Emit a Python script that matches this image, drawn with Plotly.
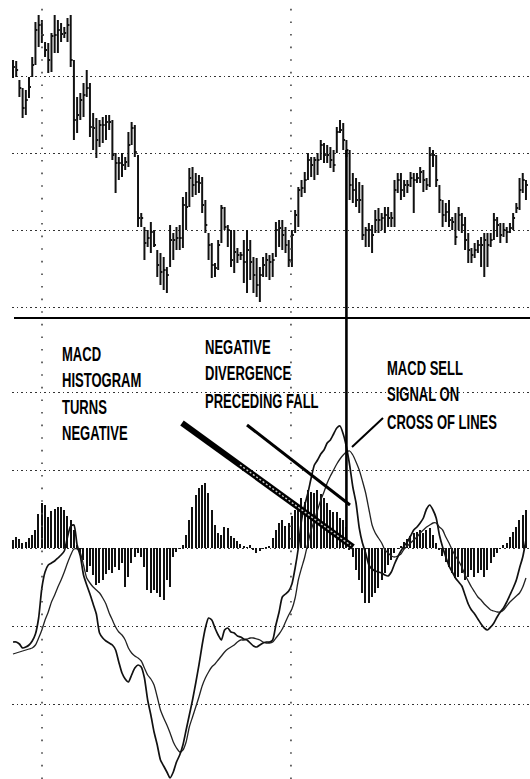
import plotly.graph_objects as go

W, H = 530, 779
ML = 12                      # left margin in px
PW = W - ML                  # plot width in px

# ---------------- price bars (high / low / close) ----------------
high = [44.0, 43.9, 42.0, 41.2, 41.0, 42.3, 44.3, 47.8, 48.5, 48.0,
        45.8, 45.7, 46.7, 48.5, 48.0, 47.7, 47.3, 48.2, 48.5, 44.0,
        40.3, 40.7, 41.7, 43.0, 41.7, 38.7, 38.2, 38.0, 38.3, 38.5,
        38.5, 38.0, 34.7, 34.3, 34.7, 34.3, 36.8, 37.8, 37.5, 34.5,
        28.7, 27.3, 27.0, 27.8, 27.0, 25.0, 24.7, 24.3, 23.3, 27.5,
        26.7, 27.3, 27.5, 30.3, 30.8, 33.2, 33.3, 32.7, 32.5, 32.3,
        30.0, 26.7, 25.7, 23.7, 26.0, 29.5, 29.3, 27.5, 27.0, 27.0,
        25.2, 24.8, 26.0, 27.0, 26.0, 24.3, 24.2, 23.3, 24.3, 24.7,
        24.5, 24.7, 27.8, 28.0, 28.0, 27.3, 26.0, 27.0, 29.0, 31.3,
        32.0, 32.8, 34.7, 34.3, 34.3, 34.7, 36.0, 35.7, 35.5, 35.3,
        35.0, 37.3, 38.0, 37.7, 36.0, 35.0, 32.7, 32.2, 31.8, 31.5,
        27.3, 27.7, 27.5, 29.0, 29.2, 28.7, 29.3, 29.3, 28.8, 32.0,
        32.7, 32.7, 32.0, 32.0, 32.8, 32.7, 32.7, 33.3, 33.0, 32.2,
        35.3, 35.0, 34.5, 31.5, 30.0, 29.7, 30.0, 28.3, 28.7, 29.3,
        28.7, 28.3, 26.7, 25.2, 25.7, 26.0, 26.3, 26.7, 26.7, 26.7,
        28.7, 28.3, 27.7, 27.7, 27.3, 27.7, 28.7, 29.7, 32.2, 32.7,
        32.0]
low = [42.2, 42.3, 40.3, 38.2, 38.5, 40.2, 42.3, 43.5, 45.3, 45.7,
       44.3, 42.7, 42.8, 44.7, 44.7, 45.8, 46.2, 45.8, 43.3, 36.0,
       36.7, 38.0, 38.3, 40.3, 36.3, 35.0, 34.2, 35.3, 35.7, 36.0,
       37.0, 34.0, 30.7, 32.0, 32.3, 33.0, 33.3, 35.5, 34.3, 27.3,
       27.3, 24.0, 25.3, 24.7, 25.3, 22.3, 21.5, 21.0, 20.7, 23.3,
       24.0, 25.0, 25.0, 25.2, 27.0, 29.3, 30.3, 30.5, 30.7, 28.7,
       26.7, 24.0, 22.2, 22.3, 23.0, 25.7, 27.0, 25.3, 23.3, 22.7,
       23.7, 24.0, 21.7, 20.7, 22.0, 20.7, 20.3, 19.8, 22.3, 22.3,
       22.0, 22.3, 24.3, 25.3, 25.0, 24.7, 23.3, 23.3, 26.7, 27.3,
       30.3, 30.7, 32.0, 32.3, 32.0, 32.5, 34.0, 33.7, 33.7, 33.2,
       32.8, 34.7, 36.7, 35.0, 34.3, 30.0, 29.7, 29.3, 28.7, 26.0,
       25.3, 25.3, 24.7, 26.7, 26.7, 27.0, 26.7, 27.3, 27.3, 27.3,
       30.7, 30.0, 30.3, 30.7, 31.3, 28.7, 31.7, 31.7, 30.8, 31.0,
       31.3, 33.3, 31.3, 28.7, 27.3, 27.8, 27.3, 27.0, 25.5, 27.0,
       26.7, 25.0, 23.7, 23.7, 24.2, 24.7, 23.3, 22.3, 23.3, 25.3,
       26.0, 26.3, 25.7, 26.3, 25.7, 26.7, 27.0, 28.7, 29.0, 30.7,
       30.0]
close = [43.3, 43.0, 41.2, 39.2, 40.0, 41.3, 43.5, 47.0, 47.5, 46.5,
         45.0, 44.0, 46.4, 46.5, 47.0, 46.6, 46.7, 47.5, 44.0, 38.0,
         38.5, 40.0, 40.5, 41.2, 37.3, 37.2, 36.0, 37.5, 37.5, 37.8,
         37.8, 34.5, 33.7, 33.7, 33.5, 33.8, 35.5, 37.2, 34.8, 28.2,
         28.2, 25.7, 26.2, 26.8, 25.5, 23.5, 22.8, 23.0, 22.5, 26.0,
         26.0, 26.2, 26.2, 29.5, 29.3, 32.2, 31.5, 31.8, 31.7, 29.5,
         27.5, 25.5, 23.5, 23.2, 25.5, 29.2, 27.3, 27.0, 24.0, 24.8,
         24.5, 24.5, 23.8, 25.0, 23.8, 22.5, 21.5, 22.5, 23.5, 24.0,
         23.8, 24.0, 27.0, 27.2, 26.5, 25.5, 24.0, 26.5, 28.5, 31.0,
         31.2, 32.0, 34.0, 33.5, 34.0, 34.0, 35.5, 34.5, 34.5, 34.0,
         33.5, 36.8, 37.0, 36.0, 35.0, 31.5, 31.0, 30.0, 30.0, 26.5,
         27.0, 27.0, 26.5, 28.0, 28.0, 28.2, 28.5, 28.2, 28.2, 31.0,
         32.0, 31.0, 31.5, 31.5, 32.2, 32.0, 32.2, 32.8, 32.0, 31.5,
         34.5, 34.5, 32.0, 30.0, 28.5, 28.8, 28.0, 27.8, 26.3, 28.5,
         27.5, 26.0, 25.0, 24.5, 25.0, 25.5, 25.5, 26.0, 25.5, 26.0,
         28.0, 27.5, 26.5, 27.0, 26.8, 27.2, 28.2, 29.2, 31.0, 32.0,
         31.5]

# ---------------- MACD panel ----------------
macd = [-0.94, -0.94, -0.96, -1.00, -0.99, -0.97, -0.93, -0.86, -0.70, -0.40,
        -0.24, -0.17, -0.15, -0.13, -0.10, -0.07, -0.03, 0.11, 0.22, 0.23,
        0.03, -0.08, -0.27, -0.37, -0.46, -0.56, -0.66, -0.85, -0.90, -0.93,
        -0.95, -0.97, -1.02, -1.14, -1.25, -1.31, -1.34, -1.27, -1.20, -1.17,
        -1.19, -1.30, -1.52, -1.67, -1.84, -1.97, -2.12, -2.18, -2.24, -2.30,
        -2.24, -2.14, -2.07, -1.97, -1.82, -1.67, -1.52, -1.35, -1.17, -0.97,
        -0.80, -0.70, -0.72, -0.80, -0.87, -0.92, -0.82, -0.80, -0.84, -0.85,
        -0.88, -0.89, -0.91, -0.92, -0.95, -0.98, -0.99, -0.97, -0.95, -0.94,
        -0.94, -0.92, -0.77, -0.64, -0.49, -0.46, -0.43, -0.36, -0.20, 0.00,
        0.28, 0.43, 0.55, 0.70, 0.83, 0.88, 0.94, 0.98, 1.05, 1.08,
        1.14, 1.20, 1.22, 1.14, 1.01, 0.83, 0.61, 0.45, 0.20, 0.05,
        -0.05, -0.17, -0.21, -0.23, -0.24, -0.25, -0.27, -0.28, -0.24, -0.16,
        -0.09, -0.03, 0.02, 0.06, 0.12, 0.18, 0.21, 0.25, 0.30, 0.39,
        0.43, 0.38, 0.30, 0.13, 0.01, -0.09, -0.18, -0.24, -0.30, -0.34,
        -0.38, -0.47, -0.56, -0.62, -0.66, -0.71, -0.76, -0.80, -0.82, -0.79,
        -0.75, -0.69, -0.64, -0.60, -0.54, -0.47, -0.40, -0.32, -0.20, -0.09,
        0.08]
signal = [-1.06, -1.05, -1.04, -1.03, -1.02, -1.01, -1.00, -0.97, -0.90, -0.82,
          -0.72, -0.64, -0.54, -0.47, -0.39, -0.32, -0.24, -0.15, -0.07, -0.01,
          -0.01, -0.05, -0.17, -0.30, -0.35, -0.39, -0.42, -0.45, -0.50, -0.56,
          -0.65, -0.72, -0.79, -0.84, -0.87, -0.92, -1.00, -1.05, -1.08, -1.10,
          -1.13, -1.20, -1.27, -1.31, -1.37, -1.49, -1.62, -1.70, -1.77, -1.85,
          -1.94, -2.00, -2.04, -2.02, -1.94, -1.79, -1.69, -1.59, -1.49, -1.38,
          -1.30, -1.24, -1.19, -1.16, -1.12, -1.08, -1.04, -1.01, -0.99, -0.97,
          -0.94, -0.92, -0.92, -0.91, -0.90, -0.90, -0.91, -0.92, -0.94, -0.95,
          -0.95, -0.94, -0.90, -0.86, -0.81, -0.74, -0.67, -0.61, -0.50, -0.32,
          -0.20, -0.09, 0.05, 0.18, 0.28, 0.38, 0.48, 0.56, 0.65, 0.72,
          0.78, 0.84, 0.89, 0.93, 0.96, 0.97, 0.93, 0.86, 0.78, 0.67,
          0.55, 0.39, 0.23, 0.15, 0.10, 0.05, -0.02, -0.05, -0.08, -0.09,
          -0.08, -0.06, -0.01, 0.02, 0.05, 0.08, 0.11, 0.15, 0.18, 0.21,
          0.23, 0.25, 0.25, 0.21, 0.18, 0.11, 0.05, -0.02, -0.08, -0.13,
          -0.19, -0.27, -0.33, -0.39, -0.44, -0.49, -0.52, -0.56, -0.59, -0.62,
          -0.63, -0.64, -0.64, -0.62, -0.58, -0.54, -0.51, -0.48, -0.45, -0.39,
          -0.30]
hist = [0.08, 0.11, 0.09, 0.05, 0.06, 0.10, 0.13, 0.18, 0.34, 0.45,
        0.43, 0.31, 0.37, 0.39, 0.41, 0.41, 0.38, 0.32, 0.28, 0.18,
        0.03, -0.05, -0.12, -0.24, -0.18, -0.27, -0.37, -0.35, -0.32, -0.26,
        -0.22, -0.25, -0.19, -0.22, -0.15, -0.39, -0.29, -0.15, -0.09, -0.05,
        -0.09, -0.19, -0.42, -0.45, -0.42, -0.45, -0.49, -0.52, -0.32, -0.39,
        -0.09, -0.04, -0.01, 0.03, 0.13, 0.28, 0.41, 0.53, 0.60, 0.63,
        0.65, 0.55, 0.38, 0.23, 0.15, 0.13, 0.21, 0.20, 0.12, 0.10,
        0.07, 0.04, 0.02, 0.01, 0.03, -0.02, -0.05, -0.03, -0.01, 0.01,
        0.02, 0.10, 0.18, 0.25, 0.28, 0.22, 0.25, 0.32, 0.38, 0.43,
        0.50, 0.46, 0.58, 0.56, 0.55, 0.58, 0.54, 0.50, 0.45, 0.38,
        0.36, 0.36, 0.30, 0.28, 0.21, -0.02, -0.09, -0.22, -0.32, -0.45,
        -0.55, -0.55, -0.49, -0.45, -0.40, -0.32, -0.25, -0.17, -0.12, -0.05,
        -0.01, 0.02, 0.06, 0.09, 0.12, 0.15, 0.16, 0.18, 0.15, 0.18,
        0.20, 0.13, 0.05, -0.02, -0.08, -0.14, -0.19, -0.25, -0.30, -0.29,
        -0.25, -0.32, -0.29, -0.22, -0.29, -0.25, -0.22, -0.29, -0.22, -0.15,
        -0.09, -0.05, -0.01, 0.03, 0.05, 0.11, 0.16, 0.21, 0.28, 0.33,
        0.38]

price_grid = [19.3, 27.0, 34.7, 42.4]
macd_grid = [-1.56, -0.78, 0.0, 0.78, 1.56]
vgrid_bars = [9.05, 86.7]      # dotted vertical grid positions (bar index)
signal_bar = 104               # bar where the sell signal is marked

n = len(close)
idx = list(range(n))

X_RANGE = [-0.31, 161.26]
SPLIT = 318                    # px height of the price panel


def fx(px):
    return (px - ML) / PW


def fy(py):
    return 1 - py / H


# HLC bars as segments: vertical range + right-hand close tick
bx, by = [], []
for i in idx:
    bx += [i, i, None, i, i + 0.6, None]
    by += [low[i], high[i], None, close[i], close[i], None]

fig = go.Figure()
fig.add_trace(go.Scatter(x=bx, y=by, mode="lines",
                         line=dict(color="#111111", width=2),
                         hoverinfo="skip", yaxis="y"))
fig.add_trace(go.Bar(x=idx, y=hist, width=0.42, yaxis="y2",
                     marker=dict(color="#111111", line=dict(width=0))))
fig.add_trace(go.Scatter(x=idx, y=signal, mode="lines", yaxis="y2",
                         line=dict(color="#222222", width=1.3,
                                   shape="spline", smoothing=0.6)))
fig.add_trace(go.Scatter(x=idx, y=macd, mode="lines", yaxis="y2",
                         line=dict(color="#111111", width=1.7,
                                   shape="spline", smoothing=0.6)))

dot = "1.6px,3px"
shapes = []
# panel separator
shapes.append(dict(type="line", xref="paper", yref="paper",
                   x0=fx(14), x1=1, y0=fy(SPLIT), y1=fy(SPLIT),
                   line=dict(color="black", width=2.2)))
# dotted vertical grid lines
for v in vgrid_bars:
    shapes.append(dict(type="line", xref="x", yref="paper",
                       x0=v, x1=v, y0=0, y1=fy(8),
                       line=dict(color="#444444", width=1.6, dash="1.6px,11px")))
# sell-signal marker line through both panels
shapes.append(dict(type="line", xref="x", yref="paper",
                   x0=signal_bar, x1=signal_bar, y0=fy(540), y1=fy(150),
                   line=dict(color="black", width=2.6)))
# pointer lines for the callouts
shapes.append(dict(type="line", xref="paper", yref="paper",
                   x0=fx(182), y0=fy(423), x1=fx(353), y1=fy(547),
                   line=dict(color="black", width=6)))
shapes.append(dict(type="line", xref="paper", yref="paper",
                   x0=fx(240), y0=fy(465), x1=fx(351), y1=fy(545.5),
                   line=dict(color="#cfcfcf", width=1.4, dash="2px,2px")))
shapes.append(dict(type="line", xref="paper", yref="paper",
                   x0=fx(247), y0=fy(425), x1=fx(350), y1=fy(505),
                   line=dict(color="black", width=3)))
shapes.append(dict(type="line", xref="paper", yref="paper",
                   x0=fx(383), y0=fy(418), x1=fx(352), y1=fy(447),
                   line=dict(color="black", width=2)))

FONT = dict(family="Liberation Sans, Arial, sans-serif",
            size=21, color="black", weight="bold")

labels = [
    (60, 353, "MACD"), (60, 379, "HISTOGRAM"), (60, 406, "TURNS"), (60, 432, "NEGATIVE"),
    (203, 346, "NEGATIVE"), (203, 372, "DIVERGENCE"), (203, 400, "PRECEDING FALL"),
    (385, 368, "MACD SELL"), (385, 394, "SIGNAL ON"), (385, 421, "CROSS OF LINES"),
]
annotations = [dict(x=fx(px), y=fy(py), xref="paper", yref="paper", text=t,
                    showarrow=False, xanchor="left", yanchor="middle", font=FONT)
               for px, py, t in labels]

fig.update_layout(
    width=W, height=H,
    margin=dict(l=ML, r=0, t=0, b=0),
    paper_bgcolor="white", plot_bgcolor="white",
    showlegend=False, bargap=0,
    shapes=shapes, annotations=annotations,
    xaxis=dict(range=X_RANGE, showgrid=False, zeroline=False,
               showticklabels=False, ticks="", showline=False,
               rangeslider=dict(visible=False), anchor="y2"),
    yaxis=dict(domain=[fy(SPLIT), 1], range=[50 - SPLIT / 10, 50],
               tickvals=price_grid, showticklabels=False, ticks="",
               showgrid=True, gridcolor="#333333", gridwidth=1.4, griddash=dot,
               zeroline=False, showline=False),
    yaxis2=dict(domain=[0, fy(SPLIT)], range=[-2.31, 2.30],
                tickvals=macd_grid, showticklabels=False, ticks="",
                showgrid=True, gridcolor="#333333", gridwidth=1.4, griddash=dot,
                zeroline=False, showline=False),
)

# narrow, poster-style lettering for the callout labels
condense = """
var gd = document.getElementById('{plot_id}');
gd.querySelectorAll('.annotation-text').forEach(function (t) {
  t.style.transformBox = 'fill-box';
  t.style.transformOrigin = '0% 50%';
  t.style.transform = 'scaleX(0.62)';
});
"""

fig.write_html("out.html", post_script=condense)
